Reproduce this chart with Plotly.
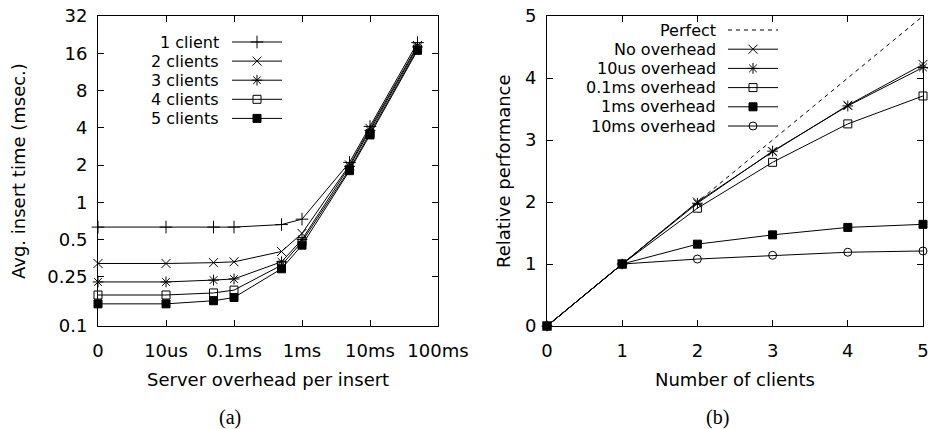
import plotly.graph_objects as go

# ---------------- data: panel (a) ----------------
# server overhead per insert, in microseconds ("0" is plotted at the 1us position)
overhead_us = [1, 10, 50, 100, 500, 1000, 5000, 10000, 50000]
overhead_tickvals = [1, 10, 100, 1000, 10000, 100000]
overhead_ticktext = ["0", "10us", "0.1ms", "1ms", "10ms", "100ms"]
insert_ticks = [0.1, 0.25, 0.5, 1, 2, 4, 8, 16, 32]
client_names = ["1 client", "2 clients", "3 clients", "4 clients", "5 clients"]
t_1client = [0.63, 0.63, 0.63, 0.63, 0.66, 0.73, 2.1, 4.1, 19.5]
t_2clients = [0.32, 0.32, 0.325, 0.33, 0.40, 0.56, 2.0, 3.95, 18.5]
t_3clients = [0.227, 0.227, 0.235, 0.24, 0.33, 0.50, 1.95, 3.8, 18.0]
t_4clients = [0.178, 0.178, 0.185, 0.195, 0.31, 0.48, 1.85, 3.6, 17.3]
t_5clients = [0.151, 0.151, 0.16, 0.17, 0.29, 0.45, 1.8, 3.5, 16.9]
client_series = [t_1client, t_2clients, t_3clients, t_4clients, t_5clients]
client_symbols = ["cross-thin", "x-thin", "asterisk", "square-open", "square"]

# ---------------- data: panel (b) ----------------
n_clients = [0, 1, 2, 3, 4, 5]
perfect = [0, 1, 2, 3, 4, 5]
no_overhead = [0, 1, 2.0, 2.81, 3.56, 4.22]
ovh_10us = [0, 1, 1.98, 2.82, 3.55, 4.17]
ovh_01ms = [0, 1, 1.90, 2.64, 3.26, 3.71]
ovh_1ms = [0, 1, 1.32, 1.47, 1.59, 1.64]
ovh_10ms = [0, 1, 1.08, 1.14, 1.19, 1.21]
perf_names = ["No overhead", "10us overhead", "0.1ms overhead", "1ms overhead", "10ms overhead"]
perf_series = [no_overhead, ovh_10us, ovh_01ms, ovh_1ms, ovh_10ms]
perf_symbols = ["x-thin", "asterisk", "square-open", "square", "circle-open"]

FONT = "DejaVu Sans"
FS = 18
LEG_FS = 16
W, H = 928, 429

fig = go.Figure()

def mk(sym):
    size = 9 if sym in ("cross-thin", "x-thin", "asterisk") else 8
    return dict(symbol=sym, size=size, color="black",
                line=dict(color="black", width=1))

for name, ys, sym in zip(client_names, client_series, client_symbols):
    fig.add_trace(go.Scatter(x=overhead_us, y=ys, mode="lines+markers", name=name,
                             line=dict(color="black", width=1), marker=mk(sym),
                             xaxis="x", yaxis="y", cliponaxis=False, showlegend=False))

fig.add_trace(go.Scatter(x=n_clients, y=perfect, mode="lines", name="Perfect",
                         line=dict(color="black", width=1, dash="4px,4px"),
                         xaxis="x2", yaxis="y2", showlegend=False))
for name, ys, sym in zip(perf_names, perf_series, perf_symbols):
    fig.add_trace(go.Scatter(x=n_clients, y=ys, mode="lines+markers", name=name,
                             line=dict(color="black", width=1), marker=mk(sym),
                             xaxis="x2", yaxis="y2", cliponaxis=False, showlegend=False))

# ---------------- manual legends (text left, sample right, gnuplot style) ----------------
annotations = []
def legend(names, symbols, dashes, text_right, x0, x1, y0, dy):
    for i, (nm, sym, dsh) in enumerate(zip(names, symbols, dashes)):
        y = y0 + i * dy
        annotations.append(dict(x=text_right, y=y, xref="x3", yref="y3", text=nm,
                                showarrow=False, xanchor="right", yanchor="middle",
                                borderpad=0,
                                font=dict(family=FONT, size=LEG_FS, color="black")))
        fig.add_trace(go.Scatter(x=[x0, x1], y=[y, y], mode="lines",
                                 line=dict(color="black", width=1, dash=dsh),
                                 xaxis="x3", yaxis="y3", showlegend=False, hoverinfo="skip"))
        if sym:
            fig.add_trace(go.Scatter(x=[(x0 + x1) / 2], y=[y], mode="markers", marker=mk(sym),
                                     xaxis="x3", yaxis="y3", showlegend=False, hoverinfo="skip"))

legend(client_names, client_symbols, ["solid"] * 5, 220, 232, 282, 42, 19.1)
legend(["Perfect"] + perf_names, [None] + perf_symbols, ["4px,4px"] + ["solid"] * 5,
       717, 728, 778, 30, 19.2)

# axis titles and captions
def txt(x, y, s, angle=0, family=FONT, size=FS):
    annotations.append(dict(x=x, y=y, xref="x3", yref="y3", text=s, showarrow=False,
                            textangle=angle, xanchor="center", yanchor="middle",
                            font=dict(family=family, size=size, color="black")))

txt(268, 379, "Server overhead per insert")
txt(18, 171, "Avg. insert time (msec.)", angle=-90)
txt(230, 417, "(a)", family="Liberation Serif", size=20)
txt(735, 379, "Number of clients")
txt(503, 171, "Relative performance", angle=-90)
txt(717, 417, "(b)", family="Liberation Serif", size=20)

common = dict(showline=True, linecolor="black", linewidth=1, mirror="allticks",
              ticks="inside", ticklen=6, tickwidth=1, tickcolor="black",
              showgrid=False, zeroline=False, automargin=False,
              ticklabeloverflow="allow",
              tickfont=dict(family=FONT, size=FS, color="black"))

xl0, xl1 = 98 / W, 438 / W
xr0, xr1 = 547 / W, 923 / W
yb, yt = 1 - 326 / H, 1 - 16 / H

fig.update_layout(
    width=W, height=H, margin=dict(l=0, r=0, t=0, b=0, pad=0, autoexpand=False),
    paper_bgcolor="white", plot_bgcolor="rgba(0,0,0,0)",
    xaxis=dict(type="log", range=[0, 5], domain=[xl0, xl1], anchor="y",
               tickvals=overhead_tickvals, ticktext=overhead_ticktext,
               ticklabelstandoff=8, **common),
    yaxis=dict(type="log", range=[-1, 1.50515], domain=[yb, yt], anchor="x",
               tickvals=insert_ticks, ticktext=[str(v) for v in insert_ticks],
               ticklabelstandoff=6, **common),
    xaxis2=dict(range=[0, 5], domain=[xr0, xr1], anchor="y2",
                tickvals=n_clients, ticklabelstandoff=8, **common),
    yaxis2=dict(range=[0, 5], domain=[yb, yt], anchor="x2",
                tickvals=[0, 1, 2, 3, 4, 5], ticklabelstandoff=6, **common),
    xaxis3=dict(range=[0, W], domain=[0, 1], anchor="y3", visible=False,
                fixedrange=True, automargin=False),
    yaxis3=dict(range=[H, 0], domain=[0, 1], anchor="x3", visible=False,
                fixedrange=True, automargin=False),
    annotations=annotations,
)

fig.write_html("out.html")
